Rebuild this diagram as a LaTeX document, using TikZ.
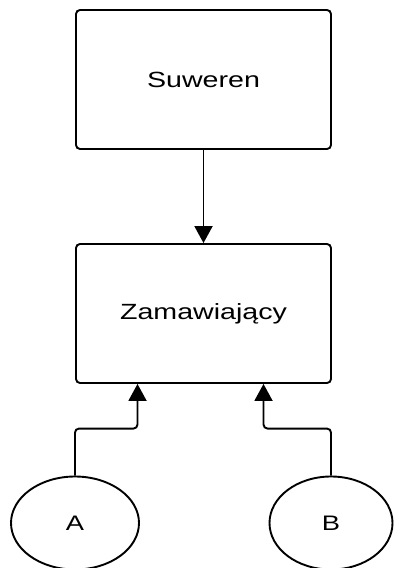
\documentclass[tikz,border=0pt]{standalone}
\usepackage{fontspec}
\setmainfont{Liberation Sans}
\newfontfamily\widesans[FakeStretch=1.3]{Liberation Sans}
\usetikzlibrary{arrows.meta,shapes.geometric}
\tikzset{
  box/.style={draw,line width=1.9pt,rounded corners=4pt,minimum width=255pt,minimum height=139pt,font=\widesans\fontsize{22}{26}\selectfont},
  party/.style={draw,ellipse,line width=1.9pt,minimum height=93pt,font=\widesans\fontsize{21}{24}\selectfont},
  arr/.style={line width=1.9pt,rounded corners=4pt,-{Triangle[width=18pt,length=17pt]}}
}
\begin{document}
\begin{tikzpicture}[x=1pt,y=-1pt]
      \useasboundingbox (0,0) rectangle (395,568);
      \draw
        (203.5,79.5) node[box] (suw){Suweren}
        (203.5,313.5) node[box] (zam){Zamawiający}
        (75,523) node[party,minimum width=128pt] (a){A}
        (331,523) node[party,minimum width=123pt] (b){B};
      \begin{scope}[arr]
        \draw (suw) to (zam);
        \draw (a.north) -- ++(0,-47) -| ([xshift=-66pt]zam.south);
        \draw (b.north) -- ++(0,-47) -| ([xshift=60pt]zam.south);
      \end{scope}
    \end{tikzpicture}
\end{document}
